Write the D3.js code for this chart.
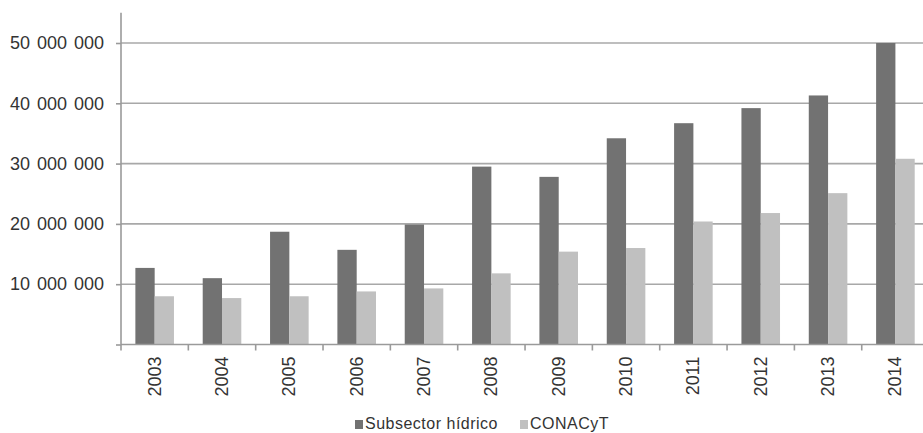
<!DOCTYPE html>
<html><head><meta charset="utf-8">
<script src="https://cdn.jsdelivr.net/npm/d3@7"></script>
<style>
html,body{margin:0;padding:0;background:#fff;overflow:hidden}
svg{display:block}
text{font-family:"Liberation Sans",Arial,sans-serif;fill:#333}
</style></head>
<body>
<svg id="c" width="923" height="433"></svg>
<script>
const years = ["2003","2004","2005","2006","2007","2008","2009","2010","2011","2012","2013","2014"];
const seriesNames = ["Subsector hídrico","CONACyT"];
const subsectorHidrico = [12.7e6,11.0e6,18.7e6,15.7e6,19.9e6,29.5e6,27.8e6,34.2e6,36.7e6,39.2e6,41.3e6,50.0e6];
const conacyt = [8.0e6,7.7e6,8.0e6,8.8e6,9.3e6,11.8e6,15.4e6,16.0e6,20.4e6,21.8e6,25.1e6,30.8e6];
const yTicks = [10e6,20e6,30e6,40e6,50e6];
const colors = ["#727272","#c0c0c0"];

const svg = d3.select("#c");
const left = 121, bandW = 67.34, baseY = 344.5, unit = 60.3;
const x = d3.scaleBand().domain(years).range([left, left + bandW*years.length]).paddingInner(0).paddingOuter(0);
const xs = d3.scaleBand().domain(seriesNames).range([0, x.bandwidth()]).paddingInner(0).paddingOuter(0.745);
const y = d3.scaleLinear().domain([0, 55e6]).range([baseY, baseY - 5.5*unit]);

const loc = d3.formatLocale({decimal:",", thousands:" ", grouping:[3], currency:["",""]});
const fmt = loc.format(",");

// gridlines
svg.append("g").selectAll("line").data(yTicks).join("line")
  .attr("x1", left).attr("x2", 923)
  .attr("y1", d=>y(d)).attr("y2", d=>y(d))
  .attr("stroke","#a8a8a8").attr("stroke-width",1.6);

// bars
const data = years.map((yr,i)=>({yr, vals:[subsectorHidrico[i], conacyt[i]]}));
const g = svg.append("g").selectAll("g").data(data).join("g")
  .attr("transform", d=>`translate(${x(d.yr)},0)`);
g.selectAll("rect").data(d=>d.vals.map((v,j)=>({name:seriesNames[j], v, j}))).join("rect")
  .attr("x", d=>xs(d.name)).attr("width", xs.bandwidth())
  .attr("y", d=>y(d.v)).attr("height", d=>baseY - y(d.v))
  .attr("fill", d=>colors[d.j]);

// y axis
const ya = svg.append("g").attr("transform",`translate(${left},0)`)
  .call(d3.axisLeft(y).tickValues([0].concat(yTicks)).tickSize(5).tickPadding(12).tickFormat(d=> d===0 ? "" : fmt(d)));
ya.select(".domain").attr("stroke","#9a9a9a").attr("stroke-width",1.6).attr("d", `M0,${y(55e6)}V${baseY}`);
ya.selectAll(".tick line").attr("stroke","#9a9a9a").attr("stroke-width",1.6);
ya.selectAll(".tick text").attr("font-size",18).attr("fill","#333").attr("word-spacing",2)
  .attr("font-family","Liberation Sans, Arial, sans-serif");

// x axis
const xa = svg.append("g").attr("transform",`translate(0,${baseY})`);
xa.append("line").attr("x1",left).attr("x2",923).attr("y1",0).attr("y2",0)
  .attr("stroke","#9a9a9a").attr("stroke-width",1.6);
xa.selectAll("line.tk").data(years).join("line").attr("class","tk")
  .attr("x1", d=>x(d)).attr("x2", d=>x(d)).attr("y1",0).attr("y2",6)
  .attr("stroke","#9a9a9a").attr("stroke-width",1.6);
xa.selectAll("text").data(years).join("text")
  .attr("transform", d=>`translate(${x(d)+x.bandwidth()/2+6},12) rotate(-90)`)
  .attr("text-anchor","end").attr("font-size",18).text(d=>d);

// legend
const leg = svg.append("g");
const items = [{name:seriesNames[0], c:colors[0], x:355},{name:seriesNames[1], c:colors[1], x:520}];
items.forEach(it=>{
  leg.append("rect").attr("x",it.x).attr("y",420).attr("width",8).attr("height",9).attr("fill",it.c);
  leg.append("text").attr("x",it.x+10).attr("y",429).attr("font-size",16).attr("letter-spacing",0.5)
    .attr("fill","#333").text(it.name);
});
</script>
</body></html>
